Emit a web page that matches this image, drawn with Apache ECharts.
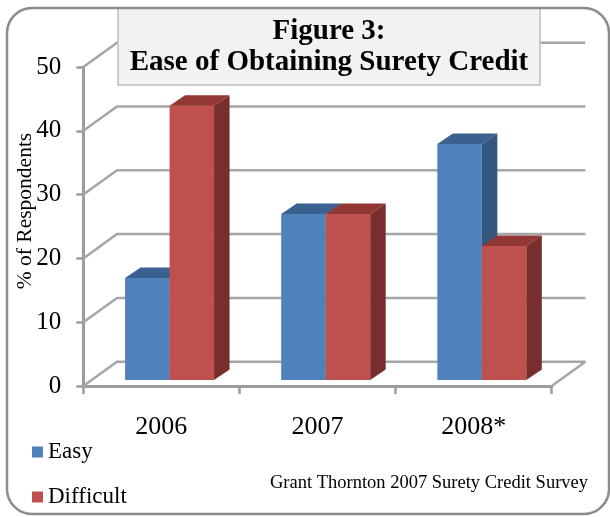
<!DOCTYPE html>
<html><head><meta charset="utf-8">
<script src="https://cdn.jsdelivr.net/npm/echarts@6/dist/echarts.min.js"></script>
<style>html,body{margin:0;padding:0;background:#fff}#c{width:610px;height:517px}</style>
</head><body><div id="c"></div>
<script>
// ---- data ----
const categories = ['2006', '2007', '2008*'];
const easyValues = [16, 26, 37];
const difficultValues = [43, 26, 21];
const yTicks = [0, 10, 20, 30, 40, 50];
const seriesNames = ['Easy', 'Difficult'];
const titleText = 'Figure 3:\nEase of Obtaining Surety Credit';
const yAxisName = '% of Respondents';
const sourceNote = 'Grant Thornton 2007 Surety Credit Survey';

// ---- style ----
const FONT = 'Liberation Serif';
const GRID_GRAY = '#a6a6a6';
const AXIS_GRAY = '#9c9c9c';
const WALL = { dx: 33.7, dy: -24.3 };
const BAR_PLANE = { dx: 8.2, dy: -6 };
const BAR_DEPTH = { dx: 15.5, dy: -10.5 };
const BAR_FRAC = 0.285;
const palettes = [
  { front: '#4f81bd', top: '#3b6190', side: '#35577f' },
  { front: '#c0504d', top: '#933735', side: '#772e2c' }
];
const legendText = { fontFamily: FONT, fontSize: 23, lineHeight: 24, color: '#000' };

function gridRender(params, api) {
  const cs = params.coordSys;
  const v = api.value(1);
  const y = api.coord([0, v])[1];
  const x0 = cs.x, x1 = cs.x + cs.width;
  const children = [{
    type: 'polyline',
    shape: { points: [[x0, y], [x0 + WALL.dx, y + WALL.dy], [x1 + WALL.dx, y + WALL.dy]] },
    style: { stroke: GRID_GRAY, lineWidth: 2.5, fill: null }
  }];
  if (v === 0) {
    children.push({
      type: 'line',
      shape: { x1: x1, y1: y, x2: x1 + WALL.dx, y2: y + WALL.dy },
      style: { stroke: GRID_GRAY, lineWidth: 2.5 }
    });
  }
  return { type: 'group', children: children };
}

function barRender(si) {
  const pal = palettes[si];
  return function (params, api) {
    const ci = api.value(0), v = api.value(1);
    const base = api.coord([ci, 0]);
    const top = api.coord([ci, v]);
    const catW = api.size([1, 0])[0];
    const w = catW * BAR_FRAC;
    const cx = base[0] + BAR_PLANE.dx;
    const left = si === 0 ? cx - w : cx;
    const right = left + w;
    const yb = base[1] + BAR_PLANE.dy, yt = top[1] + BAR_PLANE.dy;
    const d = BAR_DEPTH;
    return {
      type: 'group',
      children: [
        { type: 'polygon', shape: { points: [[left, yb], [right, yb], [right, yt], [left, yt]] }, style: { fill: pal.front } },
        { type: 'polygon', shape: { points: [[left, yt], [right, yt], [right + d.dx, yt + d.dy], [left + d.dx, yt + d.dy]] }, style: { fill: pal.top } },
        { type: 'polygon', shape: { points: [[right, yb], [right + d.dx, yb + d.dy], [right + d.dx, yt + d.dy], [right, yt]] }, style: { fill: pal.side } }
      ]
    };
  };
}

const chart = echarts.init(document.getElementById('c'), null, { renderer: 'canvas' });
chart.setOption({
  animation: false,
  backgroundColor: '#fff',
  textStyle: { fontFamily: FONT, color: '#000' },
  title: {
    text: titleText, left: 329, top: 16, textAlign: 'center', padding: 0,
    textStyle: { fontFamily: FONT, fontWeight: 'bold', fontSize: 29, lineHeight: 31, color: '#000' }
  },
  legend: {
    data: seriesNames.map(function (n) { return { name: n, textStyle: legendText }; }),
    orient: 'vertical', left: 32, top: 440, padding: 0,
    itemWidth: 11, itemHeight: 11, itemGap: 21, icon: 'rect',
    formatter: '{t|{name}}',
    textStyle: Object.assign({ rich: { t: legendText } }, legendText)
  },
  grid: { left: 83.3, right: 58.3, top: 67, bottom: 131, containLabel: false },
  xAxis: {
    type: 'category', data: categories, boundaryGap: true,
    axisLine: { lineStyle: { color: AXIS_GRAY, width: 3 } },
    axisTick: { show: true, length: 8, lineStyle: { color: AXIS_GRAY, width: 2.5 } },
    axisLabel: { fontFamily: FONT, fontSize: 26, lineHeight: 26, color: '#000', margin: 28 },
    splitLine: { show: false }
  },
  yAxis: {
    type: 'value', min: 0, max: 50, interval: 10,
    axisLine: { show: true, lineStyle: { color: AXIS_GRAY, width: 3 } },
    axisTick: { show: true, length: 7, lineStyle: { color: AXIS_GRAY, width: 2.5 } },
    axisLabel: { fontFamily: FONT, fontSize: 25, color: '#000', margin: 22 },
    splitLine: { show: false }
  },
  graphic: [
    { type: 'rect', z: 100, silent: true, shape: { x: 7, y: 8, width: 602, height: 506, r: 25 },
      style: { fill: null, stroke: '#8c8c8c', lineWidth: 2.5 } },
    { type: 'rect', z: 5, silent: true, shape: { x: 118, y: 8, width: 422, height: 77 },
      style: { fill: '#f2f2f2', stroke: '#bfbfbf', lineWidth: 1.5 } },
    { type: 'text', z: 5, x: 25, y: 211, rotation: Math.PI / 2,
      style: { text: yAxisName, fontFamily: FONT, fontSize: 21.5, fill: '#000', align: 'center', verticalAlign: 'middle' } },
    { type: 'text', z: 5, x: 429, y: 483,
      style: { text: sourceNote, fontFamily: FONT, fontSize: 18.5, fill: '#000', align: 'center', verticalAlign: 'middle' } }
  ],
  series: [
    { type: 'custom', name: 'walls', silent: true, z: 1, renderItem: gridRender,
      encode: { x: 0, y: 1 }, data: yTicks.map(function (v) { return [0, v]; }) },
    { type: 'custom', name: seriesNames[0], z: 2, renderItem: barRender(0), itemStyle: { color: palettes[0].front },
      encode: { x: 0, y: 1 }, data: categories.map(function (c, i) { return [i, easyValues[i]]; }) },
    { type: 'custom', name: seriesNames[1], z: 2, renderItem: barRender(1), itemStyle: { color: palettes[1].front },
      encode: { x: 0, y: 1 }, data: categories.map(function (c, i) { return [i, difficultValues[i]]; }) }
  ]
});
</script></body></html>
